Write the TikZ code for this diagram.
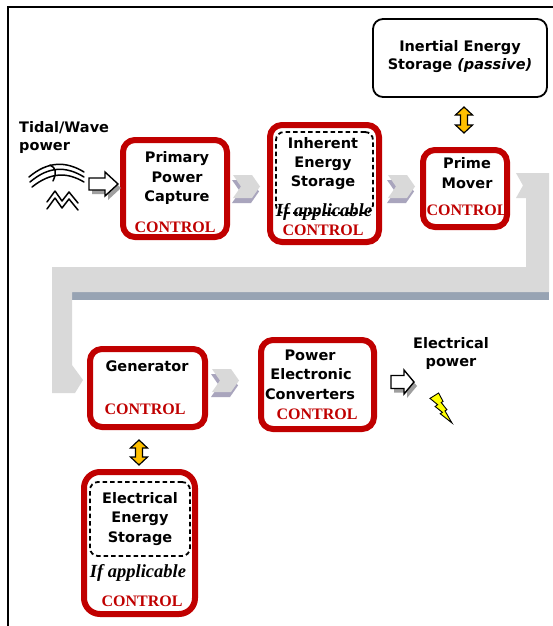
\documentclass[tikz,border=0pt]{standalone}
\usepackage{fontspec}
\setmainfont{Liberation Serif}
\newfontfamily\vsans{DejaVu Sans}
\definecolor{ctrlred}{HTML}{C00000}
\definecolor{bandgray}{HTML}{D9D9D9}
\definecolor{bandblue}{HTML}{97A3B3}
\definecolor{chevshadow}{HTML}{A9A5BD}
\definecolor{boltyellow}{HTML}{FFFF00}
\definecolor{arrowyellow}{HTML}{FFC000}
\begin{document}
\begin{tikzpicture}[x=1pt,y=-1pt,
 redbox/.style={draw=ctrlred, line width=6pt, rounded corners=12pt, inner sep=0pt},
 lbl/.style={font=\vsans\bfseries\fontsize{14.5}{17}\selectfont, inner sep=0pt, anchor=base},
 ctrl/.style={font=\bfseries\fontsize{16}{18}\selectfont, text=ctrlred, inner sep=0pt, anchor=base},
 ifapp/.style={font=\bfseries\itshape\fontsize{18.5}{20}\selectfont, inner sep=0pt, anchor=base},
 dashbox/.style={draw, line width=1.8pt, dash pattern=on 4.5pt off 3pt, rounded corners=8pt, inner sep=0pt},
 chev/.style={fill=bandgray},
 chevsh/.style={fill=chevshadow},
 blockarrow/.style={draw=black, line width=1.4pt, fill=white},
 blockshadow/.style={fill=gray!75},
 dblarrow/.style={draw=black, line width=1.2pt, fill=arrowyellow},
 wave/.style={draw=black, line width=1.5pt, line cap=round, line join=round},
]
\useasboundingbox (0,0) rectangle (553,626);
\fill[white] (0,0) rectangle (553,626);
% frame
\draw[line width=2pt] (7.5,626) -- (7.5,7.5) -- (553,7.5);

% big bent band
\fill[bandblue] (72,292) rectangle (549,300);
\fill[bandgray] (516,173) -- (549,173) -- (549,292) -- (72,292) -- (72,365) -- (83,380) -- (75,393) -- (52,393) -- (52,267) -- (526,267) -- (526,198) -- (516,198) -- (523,185.5) -- cycle;

% chevrons
\foreach \cx/\cy in {233/175, 388/175, 212/369} {
  \begin{scope}[shift={(\cx,\cy)}]
    \fill[chevsh] (-1,5) -- (18,5) -- (26,16.5) -- (18,28) -- (-1,28) -- (7,16.5) -- cycle;
    \fill[chev] (0,0) -- (19,0) -- (27,11.5) -- (19,23) -- (0,23) -- (8,11.5) -- cycle;
  \end{scope}
}

% boxes
\node[redbox, minimum width=104pt, minimum height=97pt] (ppc) at (175,188.5) {};
\node[redbox, minimum width=109pt, minimum height=117pt] (ies) at (324.5,183.5) {};
\node[redbox, minimum width=84pt, minimum height=77pt] (pm) at (465,188.5) {};
\node[draw, line width=1.8pt, rounded corners=10pt, minimum width=174pt, minimum height=78pt, inner sep=0pt] (inertial) at (460,58) {};
\node[redbox, minimum width=115pt, minimum height=78pt] (gen) at (147.5,388) {};
\node[redbox, minimum width=113pt, minimum height=89pt] (pec) at (317.5,384.5) {};
\node[redbox, rounded corners=16pt, minimum width=111pt, minimum height=142pt] (ees) at (139.5,543) {};
\node[dashbox, minimum width=97pt, minimum height=81pt] (iesd) at (324.5,172.5) {};
\node[dashbox, minimum width=100pt, minimum height=74pt] (eesd) at (140,519) {};

% texts
\node[lbl, anchor=base west] (tw1) at (19,132) {Tidal/Wave};
\node[lbl, anchor=base west] (tw2) at (19,150) {power};

\node[lbl] (ppc1) at (177,162) {Primary};
\node[lbl] (ppc2) at (177,182) {Power};
\node[lbl] (ppc3) at (177,201) {Capture};
\node[ctrl] (ppcc) at (175,232) {CONTROL};

\node[lbl] (ies1) at (323,148) {Inherent};
\node[lbl] (ies2) at (323,167) {Energy};
\node[lbl] (ies3) at (323,186) {Storage};
\node[ifapp] (iesi) at (324,216) {If applicable};
\node[ctrl] (iesc) at (323,235) {CONTROL};

\node[lbl] (pm1) at (467,168) {Prime};
\node[lbl] (pm2) at (467,188) {Mover};
\node[ctrl] (pmc) at (467,215) {CONTROL};

\node[lbl] (in1) at (460,52) {Inertial Energy};
\node[lbl] (in2) at (460,70) {Storage {\itshape(passive)}};

\node[lbl] (gen1) at (147,371) {Generator};
\node[ctrl] (genc) at (145,414) {CONTROL};

\node[lbl] (pec1) at (310,360) {Power};
\node[lbl] (pec2) at (311,379) {Electronic};
\node[lbl] (pec3) at (310,399) {Converters};
\node[ctrl] (pecc) at (317,419) {CONTROL};

\node[lbl] (ep1) at (451,348) {Electrical};
\node[lbl] (ep2) at (451,366) {power};

\node[lbl] (ees1) at (140,503) {Electrical};
\node[lbl] (ees2) at (140,522) {Energy};
\node[lbl] (ees3) at (140,542) {Storage};
\node[ifapp] (eesi) at (138,577) {If applicable};
\node[ctrl] (eesc) at (142,606) {CONTROL};

% yellow double arrows
\foreach \ax/\ay/\by in {464/107/133, 139/440/465} {
  \filldraw[dblarrow] (\ax,\ay) -- (\ax+8.5,\ay+8) -- (\ax+3.5,\ay+8) -- (\ax+3.5,\by-8) -- (\ax+8.5,\by-8) -- (\ax,\by) -- (\ax-8.5,\by-8) -- (\ax-3.5,\by-8) -- (\ax-3.5,\ay+8) -- (\ax-8.5,\ay+8) -- cycle;
}

% block arrows
\begin{scope}[shift={(89,184)}]
  \fill[blockshadow] (3,-2) -- (19,-2) -- (19,-8) -- (32,4) -- (19,16) -- (19,10) -- (3,10) -- cycle;
  \filldraw[blockarrow] (0,-6) -- (16,-6) -- (16,-12) -- (29,0) -- (16,12) -- (16,6) -- (0,6) -- cycle;
\end{scope}
\begin{scope}[shift={(391,382)}]
  \fill[blockshadow] (3,-2.5) -- (16,-2.5) -- (16,-8) -- (26,4) -- (16,16) -- (16,10.5) -- (3,10.5) -- cycle;
  \filldraw[blockarrow] (0,-6.5) -- (13,-6.5) -- (13,-12) -- (23,0) -- (13,12) -- (13,6.5) -- (0,6.5) -- cycle;
\end{scope}

% lightning bolt
\filldraw[fill=boltyellow, draw=black, line width=0.9pt, line join=miter]
  (438.6,393) -- (430,398.4) -- (437.7,404.7) -- (435.1,406.5) -- (442.4,412.3) -- (440.2,413.7) -- (452,423) -- (445.0,410.9) -- (446.9,409.7) -- (441.2,402.5) -- (443.1,401.5) -- cycle;

% wave icon
\draw[wave] (29,177) .. controls (48,161) and (66,161) .. (84,172);
\draw[wave] (30,182) .. controls (49,166) and (66,166) .. (84,177);
\draw[wave] (32,187) .. controls (51,172) and (67,172) .. (84,182);
\draw[wave] (50,165) .. controls (56,168) and (57,172) .. (53,181);
\draw[wave] (47,202) -- (55,191) -- (62,201) -- (69,192) -- (78,203);
\draw[wave] (47,209) -- (55,198) -- (62,208) -- (69,199) -- (78,210);
\end{tikzpicture}
\end{document}
